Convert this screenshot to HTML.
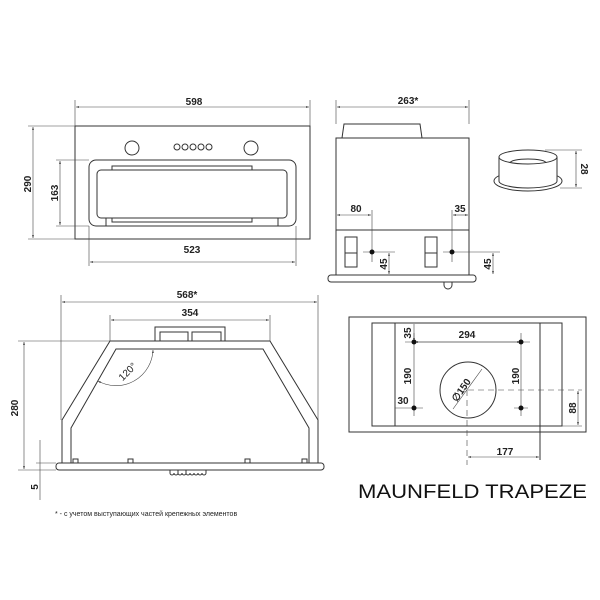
<!DOCTYPE html>
<html><head><meta charset="utf-8"><style>body{margin:0;background:#fff}svg{display:block}</style></head><body>
<svg width="600" height="600" viewBox="0 0 600 600" xmlns="http://www.w3.org/2000/svg" font-family="Liberation Sans, sans-serif">
<defs><marker id="a" viewBox="0 0 10 10" refX="10" refY="5" markerWidth="5" markerHeight="5" orient="auto-start-reverse"><path d="M0,2 L10,5 L0,8z" fill="#333"/></marker></defs>
<g fill="none" stroke="#333" stroke-width="1">
<rect x="75" y="126" width="235" height="113"/>
<circle cx="132" cy="148" r="7"/><circle cx="251" cy="148" r="7"/>
<circle cx="177" cy="147" r="3"/><circle cx="185" cy="147" r="3"/><circle cx="193" cy="147" r="3"/><circle cx="201" cy="147" r="3"/><circle cx="209" cy="147" r="3"/>
<rect x="89" y="160" width="207" height="66" rx="7"/>
<rect x="97" y="170" width="190" height="48" rx="4"/>
<path d="M112,170 v-4 h140 v4 M112,218 v4 h140 v-4 M106,218 v8 M278,218 v8"/>
</g>
<g fill="none" stroke="#444" stroke-width="0.6">
<path d="M75,126 V100 M310,126 V100 M28,126 H75 M28,239 H75 M56,160 H89 M56,226 H89 M89,226 V266 M296,226 V266"/>
<line x1="76" y1="107" x2="309" y2="107" marker-start="url(#a)" marker-end="url(#a)"/>
<line x1="33" y1="127" x2="33" y2="238" marker-start="url(#a)" marker-end="url(#a)"/>
<line x1="60" y1="161" x2="60" y2="225" marker-start="url(#a)" marker-end="url(#a)"/>
<line x1="90" y1="262" x2="295" y2="262" marker-start="url(#a)" marker-end="url(#a)"/>
</g>
<g fill="none" stroke="#333" stroke-width="1">
<rect x="336" y="138" width="133" height="137"/>
<path d="M342,138 L344,124 H420 L422,138"/>
<line x1="336" y1="230" x2="469" y2="230"/>
<rect x="328" y="275" width="148" height="7" rx="3"/>
<path d="M444,282 v3 a4,4 0 0 0 8,0 v-3"/>
<rect x="345" y="237" width="12" height="30"/><line x1="345" y1="253" x2="357" y2="253"/>
<rect x="425" y="237" width="12" height="30"/><line x1="425" y1="253" x2="437" y2="253"/>
</g>
<g fill="none" stroke="#444" stroke-width="0.6">
<path d="M336,124 V100 M469,124 V100 M336,210 V230 M372,210 V262 M452,210 V262 M469,210 V230 M363,252 H395 M443,252 H500"/>
<line x1="337" y1="107" x2="468" y2="107" marker-start="url(#a)" marker-end="url(#a)"/>
<line x1="337" y1="215" x2="371" y2="215" marker-start="url(#a)" marker-end="url(#a)"/>
<line x1="453" y1="215" x2="468" y2="215" marker-start="url(#a)" marker-end="url(#a)"/>
<line x1="389" y1="253" x2="389" y2="274" marker-start="url(#a)" marker-end="url(#a)"/>
<line x1="493" y1="253" x2="493" y2="274" marker-start="url(#a)" marker-end="url(#a)"/>
</g>
<circle cx="372" cy="252" r="2.5" fill="#111"/><circle cx="452" cy="252" r="2.5" fill="#111"/>
<g fill="none" stroke="#333" stroke-width="1">
<ellipse cx="528" cy="181" rx="34" ry="10" fill="#fff"/>
<path d="M499,157 V181 a29,7 0 0 0 58,0 V157" fill="#fff"/>
<ellipse cx="528" cy="157" rx="29" ry="7"/>
<path d="M510,163 a18,4 0 0 1 36,0"/>
</g>
<g fill="none" stroke="#444" stroke-width="0.6">
<path d="M545,150 H582 M560,188 H582"/>
<line x1="576" y1="151" x2="576" y2="187" marker-start="url(#a)" marker-end="url(#a)"/>
</g>
<g fill="none" stroke="#333" stroke-width="1">
<path d="M62,463 V420 L110,341 H270 L318,420 V463"/>
<path d="M71,463 V428 L116,349 H263 L309,428 V463"/>
<path d="M155,341 V327 H225 V341 M160,341 V332 H188 V341 M192,341 V332 H221 V341"/>
<rect x="56" y="463" width="268" height="7" rx="3"/>
<path d="M73,463 v-4 h5 v4 M128,463 v-4 h5 v4 M245,463 v-4 h5 v4 M302,463 v-4 h5 v4"/>
<path d="M170,470 v3 a2,2 0 0 0 4,0 a2,2 0 0 0 4,0 M178,470 v3 a2,2 0 0 0 4,0 a2,2 0 0 0 4,0 v-3 M186,473 a2,2 0 0 0 4,0 a2,2 0 0 0 4,0 a2,2 0 0 0 4,0 a2,2 0 0 0 4,0 a2,2 0 0 0 4,0 v-3 M170,470 v3"/>
</g>
<g fill="none" stroke="#444" stroke-width="0.6">
<path d="M61,295 V420 M318,295 V420 M110,315 V341 M270,315 V341 M18,341 H110 M18,470 H56 M36,463 H56 M40,440 V500"/>
<line x1="62" y1="302" x2="317" y2="302" marker-start="url(#a)" marker-end="url(#a)"/>
<line x1="111" y1="320" x2="269" y2="320" marker-start="url(#a)" marker-end="url(#a)"/>
<line x1="24" y1="342" x2="24" y2="469" marker-start="url(#a)" marker-end="url(#a)"/>
<path d="M153,350 A37,37 0 0 1 98,381" marker-start="url(#a)" marker-end="url(#a)"/>
</g>
<g fill="none" stroke="#333" stroke-width="1">
<rect x="349" y="317" width="237" height="115"/>
<rect x="372" y="323" width="190" height="103"/>
<path d="M395,323 V426 M540,323 V460"/>
<circle cx="468" cy="390" r="28"/>
</g>
<g fill="none" stroke="#444" stroke-width="0.6">
<path d="M405,342 H530 M514,342 h14 M405,408 H423 M514,408 H528 M414,333 V416 M521,333 V416 M395,408 H414 M562,426 H582 M482,369 L453,409"/>
<path d="M468,390 H582 M467,390 V465" stroke-dasharray="6,4"/>
<line x1="415" y1="342" x2="520" y2="342" marker-start="url(#a)" marker-end="url(#a)"/>
<line x1="414" y1="324" x2="414" y2="341" marker-end="url(#a)"/>
<line x1="578" y1="391" x2="578" y2="425" marker-start="url(#a)" marker-end="url(#a)"/>
<line x1="468" y1="457" x2="539" y2="457" marker-start="url(#a)" marker-end="url(#a)"/>
</g>
<g fill="#111"><circle cx="414" cy="342" r="2.5"/><circle cx="521" cy="342" r="2.5"/><circle cx="414" cy="408" r="2.5"/><circle cx="521" cy="408" r="2.5"/></g>
<g font-size="10" font-weight="bold" fill="#222" text-anchor="middle">
<text x="194" y="105">598</text>
<text x="192" y="253">523</text>
<text transform="translate(31,184) rotate(-90)">290</text>
<text transform="translate(58,193) rotate(-90)">163</text>
<text x="408" y="104">263*</text>
<text x="356" y="212">80</text>
<text x="460" y="212">35</text>
<text transform="translate(387,264) rotate(-90)">45</text>
<text transform="translate(491,264) rotate(-90)">45</text>
<text transform="translate(581,169) rotate(90)">28</text>
<text x="187" y="298">568*</text>
<text x="190" y="316">354</text>
<text transform="translate(18,408) rotate(-90)">280</text>
<text transform="translate(38,487) rotate(-90)">5</text>
<text transform="translate(130,374) rotate(-45)" font-weight="normal">120°</text>
<text x="467" y="338">294</text>
<text transform="translate(411,333) rotate(-90)">35</text>
<text transform="translate(411,376) rotate(-90)">190</text>
<text transform="translate(519,376) rotate(-90)">190</text>
<text x="403" y="404">30</text>
<text transform="translate(464,392) rotate(-55)">∅150</text>
<text transform="translate(576,408) rotate(-90)">88</text>
<text x="505" y="455">177</text>
</g>
<text x="55" y="516" font-size="7" fill="#222">* - с учетом выступающих частей крепежных элементов</text>
<text x="358" y="498" font-size="19" fill="#111" textLength="229" lengthAdjust="spacingAndGlyphs">MAUNFELD TRAPEZE</text>
</svg>
</body></html>
